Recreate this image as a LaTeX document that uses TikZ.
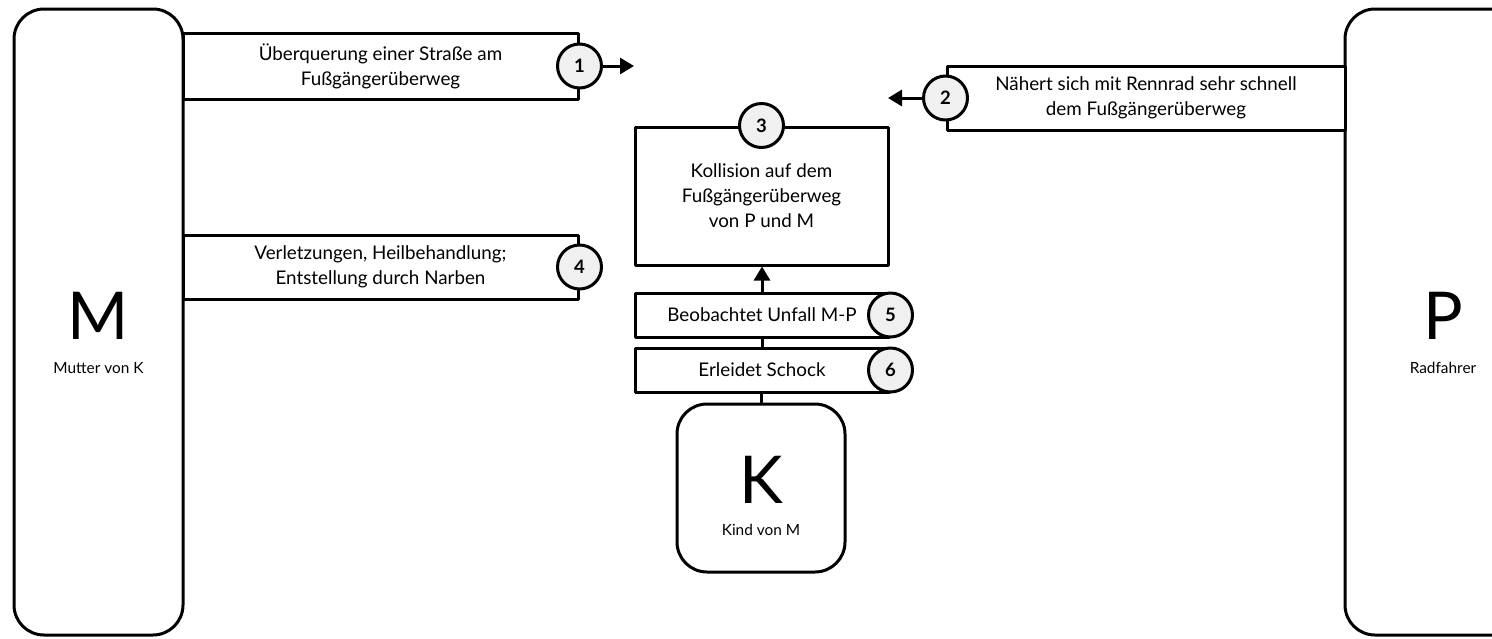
\documentclass[tikz,border=0pt]{standalone}
\usepackage{fontspec}
\setmainfont{Lato}
\usetikzlibrary{arrows.meta}
\tikzset{
  party/.style={draw,line width=3pt,rounded corners=30pt,inner sep=0pt},
  stepbox/.style={draw,line width=3pt,fill=white,align=center,inner sep=0pt,
    font=\fontsize{18.8}{25}\selectfont},
  numdot/.style={circle,draw,line width=3pt,fill=gray!12,minimum size=44pt,inner sep=0pt,
    font=\bfseries\fontsize{18.5}{18.5}\selectfont},
  bigletter/.style={inner sep=0pt,font=\fontsize{66}{66}\selectfont},
  partyname/.style={inner sep=0pt,font=\fontsize{15.4}{15.4}\selectfont}
}
\begin{document}
\begin{tikzpicture}[x=1pt,y=-1pt,line cap=round,line join=round,>={Triangle[length=14pt,width=16pt]}]
        \useasboundingbox (0,0) rectangle (1492,638);
        % parties
        \node[party,minimum width=169pt,minimum height=626pt] (M) at (98.5,322) {};
        \node[bigletter] (Mlet) at (98.5,316) {M};
        \node[partyname] (Mname) at (98.5,368) {Mutter von K};
        \node[party,minimum width=196pt,minimum height=626pt] (P) at (1443,322) {};
        \node[bigletter] (Plet) at (1443,316) {P};
        \node[partyname] (Pname) at (1443,368) {Radfahrer};
        \node[party,minimum width=168pt,minimum height=168pt] (K) at (761,488) {};
        \node[bigletter] (Klet) at (761,480) {K};
        \node[partyname] (Kname) at (761,530) {Kind von M};
        % steps
        \node[stepbox,minimum width=395pt,minimum height=66pt] (s1) at (380.5,66) {Überquerung einer Straße am\\Fußgängerüberweg};
        \node[numdot] (n1) at (s1.east) {1};
        \draw[->,line width=3pt] (n1.east) -- (634,66) coordinate (t1);
        \node[stepbox,minimum width=398pt,minimum height=64pt] (s2) at (1146,98) {Nähert sich mit Rennrad sehr schnell\\dem Fußgängerüberweg};
        \node[numdot] (n2) at (s2.west) {2};
        \draw[->,line width=3pt] (n2.west) -- (888,98) coordinate (t2);
        \node[stepbox,minimum width=253pt,minimum height=138pt] (s3) at (761.5,196) {Kollision auf dem\\Fußgängerüberweg\\von P und M};
        \node[numdot] (n3) at (s3.north) {3};
        \node[stepbox,minimum width=395pt,minimum height=64pt] (s4) at (380.5,267) {Verletzungen, Heilbehandlung;\\Entstellung durch Narben};
        \node[numdot] (n4) at (s4.east) {4};
        \node[stepbox,minimum width=254pt,minimum height=44pt] (s5) at (762,315) {Beobachtet Unfall M-P};
        \node[numdot] (n5) at (s5.east) {5};
        \node[stepbox,minimum width=254pt,minimum height=44pt] (s6) at (762,370) {Erleidet Schock};
        \node[numdot] (n6) at (s6.east) {6};
        % links
        \draw[->,line width=3pt] (s5.north) -- (s5.north |- s3.south);
        \draw[line width=3pt] (s6.north) -- (s5.south);
        \draw[line width=3pt] (K.north) -- (K.north |- s6.south);
      \end{tikzpicture}
\end{document}
